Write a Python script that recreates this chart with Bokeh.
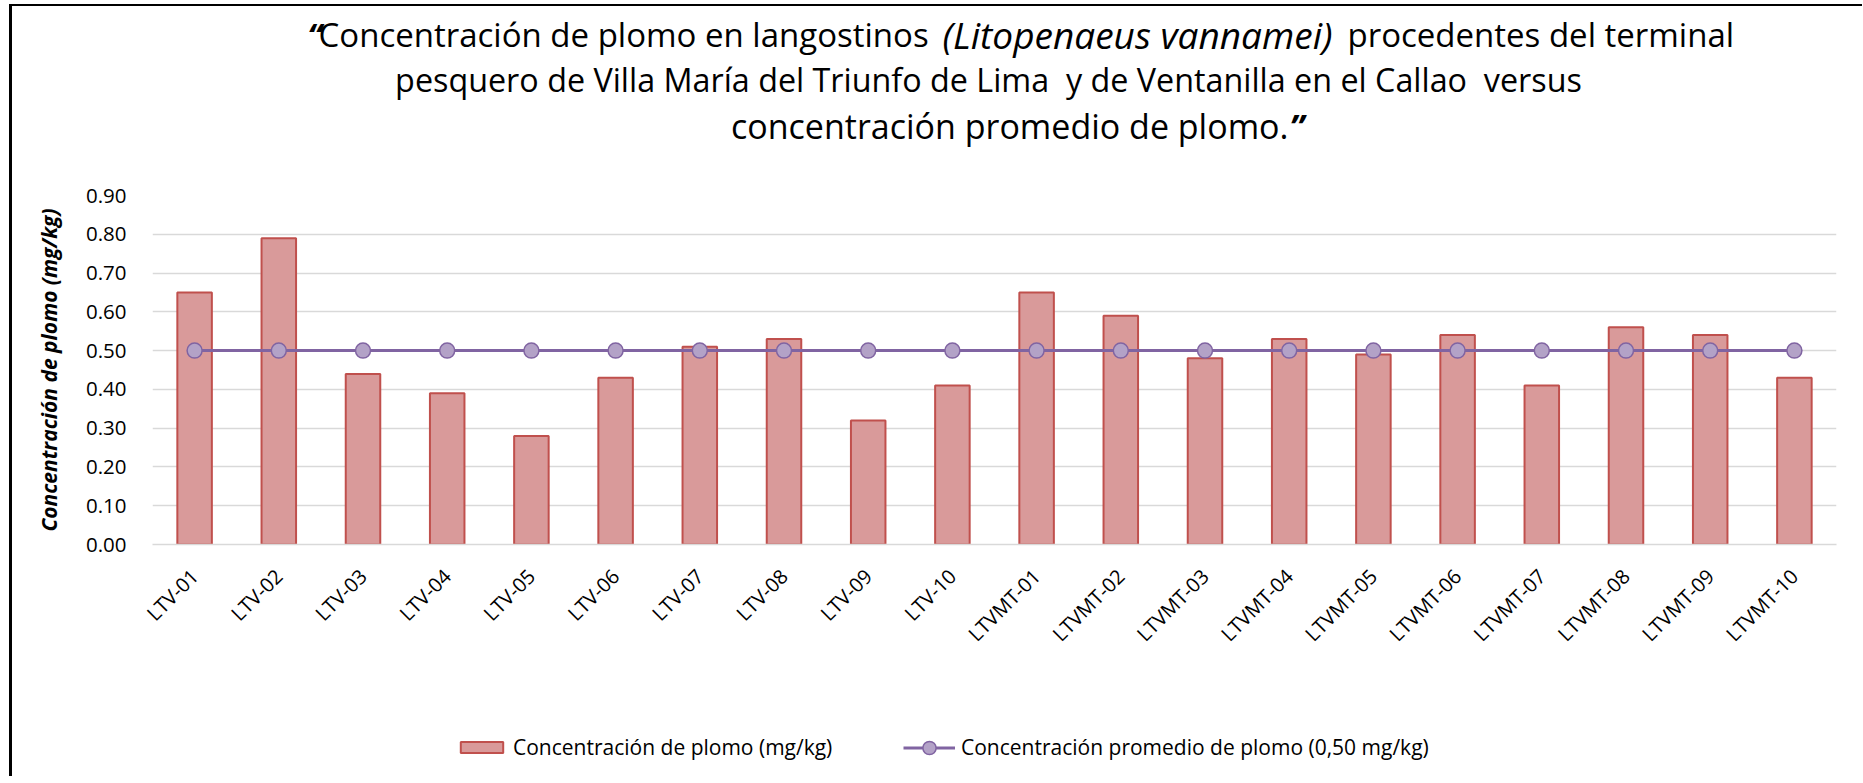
import math
from bokeh.plotting import figure
from bokeh.layouts import column
from bokeh.models import (FactorRange, Range1d, FixedTicker, NumeralTickFormatter,
                          Label, Legend, LegendItem, ColumnDataSource)
from bokeh.embed import file_html
from bokeh.resources import INLINE

# ---------------- data ----------------
categories = ["LTV-01", "LTV-02", "LTV-03", "LTV-04", "LTV-05", "LTV-06", "LTV-07",
              "LTV-08", "LTV-09", "LTV-10", "LTVMT-01", "LTVMT-02", "LTVMT-03",
              "LTVMT-04", "LTVMT-05", "LTVMT-06", "LTVMT-07", "LTVMT-08", "LTVMT-09",
              "LTVMT-10"]
plomo = [0.65, 0.79, 0.44, 0.39, 0.28, 0.43, 0.51, 0.53, 0.32, 0.41,
         0.65, 0.59, 0.48, 0.53, 0.49, 0.54, 0.41, 0.56, 0.54, 0.43]
promedio = [0.50] * len(categories)
y_ticks = [0.0, 0.1, 0.2, 0.3, 0.4, 0.5, 0.6, 0.7, 0.8, 0.9]

label_bars = "Concentración de plomo (mg/kg)"
label_line = "Concentración promedio de plomo (0,50 mg/kg)"
y_title = "Concentración de plomo (mg/kg)"
t1_quote = "\u201c"
t1_a = "Concentración de plomo en langostinos"
t1_b = "(Litopenaeus vannamei)"
t1_c = "procedentes del terminal"
t2 = "pesquero de Villa María del Triunfo de Lima\u00a0 y de Ventanilla en el Callao\u00a0 versus"
t3_a = "concentración promedio de plomo."
t3_quote = "\u201d"

# ---------------- layout constants (window pixels) ----------------
FONT = "Open Sans"
OX, OY = 12, 6                 # content origin (after css margin + border)
W = 1850
H_TITLE, H_MAIN, H_LEG = 150, 564, 56
Y_MAIN = OY + H_TITLE          # window y of main figure top
Y_LEG = Y_MAIN + H_MAIN        # window y of legend figure top
WX0, WX1 = 152, 1836           # frame left / right in window pixels
FL, FR = WX0 - OX, WX1 - OX
FT, FB = 195 - Y_MAIN, 544 - Y_MAIN
YMAX = 0.9
DY = 13                        # baseline correction for title text

BAR_FILL, BAR_LINE = "#D99A9A", "#C0504D"
LINE_COL, MARK_FILL = "#8064A2", "#B3A2C7"

src = ColumnDataSource(dict(cat=categories, plomo=plomo, prom=promedio))

# ---------------- title figure ----------------
pt = figure(width=W, height=H_TITLE, x_range=Range1d(0, FR - FL),
            y_range=Range1d(0, H_TITLE), x_axis_type=None, y_axis_type=None,
            output_backend="svg", toolbar_location=None, title=None,
            min_border_left=FL, min_border_right=W - FR, min_border_top=0,
            min_border_bottom=0)
pt.outline_line_color = None


def tlabel(wx, wy, text, style="normal", size="33px", align="left"):
    pt.add_layout(Label(x=wx - WX0, y=H_TITLE - (wy - OY) + DY, text=text,
                        text_align=align, text_baseline="alphabetic", text_font=FONT,
                        text_font_style=style, text_font_size=size,
                        text_color="#000000"))


tlabel(307, 47, t1_quote, "bold italic")
tlabel(318, 47, t1_a)
tlabel(942, 47, t1_b, "italic", "37px")
tlabel(1347, 47, t1_c)
tlabel(988, 91.5, t2, size="32.3px", align="center")
tlabel(1288, 138, t3_a, size="34px", align="right")
tlabel(1289, 138, t3_quote, "bold italic", "34px")

# ---------------- main figure ----------------
p = figure(width=W, height=H_MAIN, x_range=FactorRange(factors=categories),
           y_range=Range1d(0, YMAX), output_backend="svg", toolbar_location=None,
           title=None, min_border_left=FL, min_border_right=W - FR,
           min_border_top=FT, min_border_bottom=H_MAIN - FB)
p.outline_line_color = None

bars = p.vbar(x="cat", top="plomo", width=0.41, source=src,
              fill_color=BAR_FILL, line_color=BAR_LINE, line_width=2)
line = p.line(x="cat", y="prom", source=src, line_color=LINE_COL, line_width=3)
pts = p.scatter(x="cat", y="prom", source=src, size=15, fill_color=MARK_FILL,
                line_color=LINE_COL, line_width=1.5)

p.xaxis.major_label_orientation = math.pi / 4
p.xaxis.major_label_text_font = FONT
p.xaxis.major_label_text_font_size = "20px"
p.xaxis.major_label_text_color = "#000000"
p.xaxis.axis_line_color = "#D9D9D9"
p.xaxis.axis_line_width = 1.5
p.xaxis.major_tick_line_color = None
p.xaxis.minor_tick_line_color = None
p.xaxis.major_label_standoff = 22

p.yaxis.ticker = FixedTicker(ticks=y_ticks)
p.yaxis.formatter = NumeralTickFormatter(format="0.00")
p.yaxis.axis_line_color = None
p.yaxis.major_tick_line_color = None
p.yaxis.minor_tick_line_color = None
p.yaxis.major_label_standoff = 20
p.yaxis.major_label_text_font = FONT
p.yaxis.major_label_text_font_size = "20.5px"
p.yaxis.major_label_text_color = "#000000"
p.yaxis.axis_label = y_title
p.yaxis.axis_label_text_font = FONT
p.yaxis.axis_label_text_font_style = "bold italic"
p.yaxis.axis_label_text_font_size = "21px"
p.yaxis.axis_label_text_color = "#000000"
p.yaxis.axis_label_standoff = 20

p.xgrid.grid_line_color = None
p.ygrid.ticker = FixedTicker(ticks=y_ticks)
p.ygrid.grid_line_color = "#D9D9D9"
p.ygrid.grid_line_width = 1.4

# ---------------- legend figure (same series, hidden; only the legend shows) ----
pl = figure(width=W, height=H_LEG, x_range=FactorRange(factors=categories),
            y_range=Range1d(10, 11), x_axis_type=None, y_axis_type=None,
            output_backend="svg", toolbar_location=None, title=None,
            min_border_left=FL, min_border_right=W - FR, min_border_top=0,
            min_border_bottom=0)
pl.outline_line_color = None
lb = pl.vbar(x="cat", top="plomo", width=0.41, source=src,
             fill_color=BAR_FILL, line_color=BAR_LINE, line_width=2, visible=False)
ll = pl.line(x="cat", y="prom", source=src, line_color=LINE_COL, line_width=3,
             visible=False)
lp = pl.scatter(x="cat", y="prom", source=src, size=15, fill_color=MARK_FILL,
                line_color=LINE_COL, line_width=1.5, visible=False)

common = dict(padding=0, margin=0, border_line_color=None, background_fill_alpha=0,
              label_text_font=FONT, label_text_font_size="21px",
              label_text_color="#000000", inactive_fill_alpha=0)
leg1 = Legend(items=[LegendItem(label=label_bars, renderers=[lb])],
              location=(455 - WX0, (Y_LEG + H_LEG) - 761),
              glyph_width=53, glyph_height=14, label_height=14,
              label_standoff=5, **common)
leg2 = Legend(items=[LegendItem(label=label_line, renderers=[ll, lp])],
              location=(903 - WX0, (Y_LEG + H_LEG) - 763.5),
              glyph_width=52, glyph_height=33, label_height=33,
              label_standoff=6, **common)
pl.add_layout(leg1)
pl.add_layout(leg2)

layout = column(pt, p, pl, spacing=0,
                styles={"margin-left": "9px", "margin-top": "4px",
                        "border-left": "3px solid #000000",
                        "border-top": "2px solid #000000"})

open("out.html", "w").write(file_html(layout, INLINE))
